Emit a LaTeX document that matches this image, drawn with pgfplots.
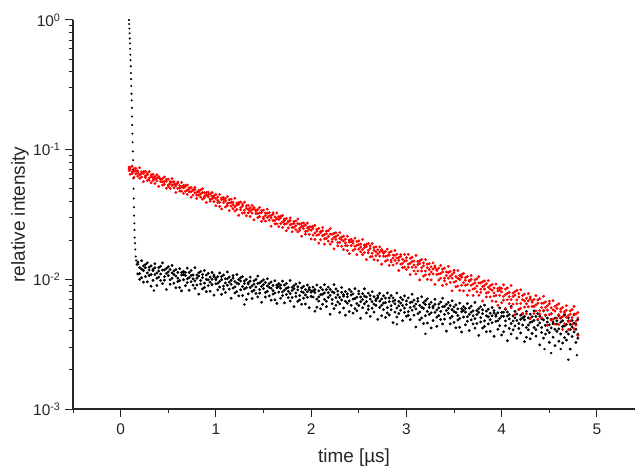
\documentclass[border=0pt]{standalone}
\usepackage{fontspec}
\setmainfont{Liberation Sans}
\usepackage{pgfplots}
\usepackage{pgfplotstable}
\pgfplotsset{compat=1.18}

% red trace: t, three samples per time step
\pgfplotstableread{
t a b c
0.09 .0735 .0690 .0712
0.10 .0704 .0646 .0725
0.12 .0676 .0746 .0655
0.14 .0681 .0612 .0714
0.16 .0685 .0649 .0717
0.18 .0626 .0662 .0686
0.20 .0603 .0725 .0642
0.22 .0674 .0616 .0655
0.24 .0677 .0566 .0658
0.26 .0628 .0681 .0609
0.28 .0659 .0580 .0640
0.30 .0603 .0677 .0581
0.32 .0618 .0640 .0556
0.34 .0608 .0644 .0579
0.36 .0620 .0591 .0548
0.38 .0641 .0573 .0602
0.40 .0609 .0521 .0619
0.42 .0568 .0595 .0588
0.44 .0533 .0598 .0564
0.46 .0616 .0541 .0568
0.48 .0504 .0588 .0571
0.50 .0535 .0592 .0522
0.52 .0546 .0566 .0503
0.54 .0598 .0530 .0563
0.56 .0508 .0540 .0566
0.58 .0468 .0544 .0525
0.60 .0563 .0503 .0550
0.62 .0479 .0528 .0504
0.64 .0559 .0479 .0516
0.66 .0529 .0460 .0508
0.68 .0532 .0478 .0517
0.70 .0487 .0452 .0534
0.72 .0473 .0497 .0508
0.74 .0430 .0511 .0473
0.76 .0491 .0486 .0446
0.78 .0494 .0465 .0513
0.80 .0446 .0469 .0421
0.82 .0486 .0472 .0447
0.84 .0489 .0431 .0456
0.86 .0467 .0416 .0500
0.88 .0438 .0465 .0425
0.90 .0446 .0467 .0391
0.92 .0449 .0433 .0470
0.94 .0415 .0454 .0400
0.96 .0436 .0416 .0467
0.98 .0397 .0427 .0442
1.00 .0370 .0420 .0451
1.02 .0391 .0431 .0406
1.04 .0365 .0451 .0393
1.06 .0412 .0424 .0349
1.08 .0429 .0390 .0414
1.10 .0403 .0362 .0418
1.12 .0384 .0434 .0370
1.14 .0388 .0339 .0411
1.16 .0392 .0367 .0415
1.18 .0351 .0377 .0394
1.20 .0336 .0422 .0364
1.22 .0387 .0346 .0374
1.24 .0391 .0312 .0378
1.26 .0357 .0395 .0344
1.28 .0380 .0324 .0367
1.30 .0341 .0394 .0326
1.32 .0353 .0369 .0309
1.34 .0347 .0372 .0326
1.36 .0356 .0336 .0305
1.38 .0372 .0324 .0344
1.40 .0350 .0288 .0358
1.42 .0322 .0342 .0336
1.44 .0299 .0346 .0321
1.46 .0358 .0305 .0325
1.48 .0280 .0340 .0328
1.50 .0302 .0342 .0293
1.52 .0311 .0325 .0281
1.54 .0348 .0300 .0323
1.56 .0286 .0309 .0327
1.58 .0257 .0311 .0298
1.60 .0326 .0284 .0317
1.62 .0268 .0303 .0285
1.64 .0325 .0268 .0294
1.66 .0304 .0255 .0289
1.68 .0307 .0269 .0297
1.70 .0277 .0251 .0311
1.72 .0267 .0284 .0292
1.74 .0237 .0295 .0268
1.76 .0281 .0277 .0249
1.78 .0284 .0264 .0298
1.80 .0251 .0267 .0233
1.82 .0280 .0270 .0252
1.84 .0282 .0241 .0259
1.86 .0269 .0232 .0292
1.88 .0248 .0267 .0239
1.90 .0255 .0270 .0215
1.92 .0257 .0246 .0272
1.94 .0234 .0262 .0223
1.96 .0250 .0236 .0272
1.98 .0222 .0244 .0254
2.00 .0254 .0205 .0239
2.02 .0257 .0219 .0247
2.04 .0228 .0203 .0261
2.06 .0219 .0235 .0243
2.08 .0190 .0247 .0221
2.10 .0234 .0230 .0202
2.12 .0237 .0217 .0251
2.14 .0205 .0221 .0187
2.16 .0235 .0225 .0207
2.18 .0237 .0197 .0214
2.20 .0223 .0187 .0246
2.22 .0204 .0223 .0195
2.24 .0211 .0226 .0172
2.26 .0214 .0203 .0229
2.28 .0192 .0219 .0181
2.30 .0207 .0193 .0229
2.32 .0180 .0202 .0212
2.34 .0170 .0198 .0215
2.36 .0182 .0204 .0191
2.38 .0167 .0215 .0182
2.40 .0194 .0201 .0158
2.42 .0204 .0182 .0195
2.44 .0190 .0167 .0198
2.46 .0180 .0208 .0171
2.48 .0183 .0155 .0196
2.50 .0185 .0171 .0198
2.52 .0163 .0177 .0187
2.54 .0155 .0203 .0170
2.56 .0184 .0161 .0176
2.58 .0186 .0142 .0179
2.60 .0167 .0189 .0160
2.62 .0181 .0149 .0173
2.64 .0159 .0189 .0150
2.66 .0167 .0176 .0142
2.68 .0163 .0178 .0152
2.70 .0169 .0157 .0140
2.72 .0178 .0151 .0162
2.74 .0166 .0131 .0170
2.76 .0151 .0162 .0159
2.78 .0138 .0164 .0150
2.80 .0171 .0141 .0152
2.82 .0128 .0161 .0154
2.84 .0141 .0164 .0136
2.86 .0146 .0154 .0129
2.88 .0167 .0140 .0153
2.90 .0133 .0146 .0156
2.92 .0117 .0147 .0140
2.94 .0155 .0131 .0150
2.96 .0123 .0143 .0133
2.98 .0156 .0124 .0138
3.00 .0139 .0119 .0147
3.02 .0131 .0156 .0124
3.04 .0133 .0109 .0145
3.06 .0137 .0124 .0148
3.08 .0116 .0129 .0138
3.10 .0110 .0153 .0124
3.12 .0137 .0116 .0130
3.14 .0139 .00989 .0132
3.16 .0123 .0142 .0116
3.18 .0134 .0106 .0127
3.20 .0116 .0142 .0108
3.22 .0123 .0131 .0100
3.24 .0119 .0132 .0109
3.26 .0125 .0114 .00990
3.28 .0134 .0110 .0120
3.30 .0123 .00914 .0127
3.32 .0109 .0119 .0117
3.34 .00985 .0122 .0110
3.36 .0128 .0102 .0111
3.38 .00898 .0120 .0114
3.40 .0102 .0122 .00973
3.42 .0107 .0114 .00917
3.44 .0126 .0102 .0113
3.46 .00948 .0106 .0115
3.48 .00815 .0109 .0102
3.50 .0117 .00953 .0112
3.52 .00877 .0105 .00966
3.54 .0117 .00887 .0102
3.56 .0107 .00823 .00997
3.58 .0109 .00900 .0104
3.60 .00943 .00816 .0111
3.62 .00901 .00984 .0103
3.64 .00755 .0105 .00911
3.66 .00983 .00963 .00819
3.68 .0100 .00901 .0107
3.70 .00841 .00921 .00751
3.72 .00989 .00940 .00851
3.74 .0101 .00802 .00890
3.76 .00938 .00754 .0105
3.78 .00841 .00937 .00793
3.80 .00880 .00956 .00681
3.82 .00898 .00842 .00973
3.84 .00786 .00925 .00731
3.86 .00869 .00795 .00978
3.88 .00732 .00841 .00895
3.90 .00680 .00823 .00912
3.92 .00743 .00858 .00787
3.94 .00673 .00919 .00752
3.96 .00813 .00848 .00631
3.98 .00864 .00752 .00821
4.00 .00799 .00659 .00849
4.02 .00740 .00908 .00691
4.04 .00762 .00596 .00840
4.06 .00782 .00695 .00859
4.08 .00649 .00735 .00792
4.10 .00604 .00897 .00699
4.12 .00784 .00644 .00738
4.14 .00803 .00535 .00757
4.16 .00694 .00822 .00648
4.18 .00776 .00587 .00731
4.20 .00651 .00830 .00598
4.22 .00697 .00750 .00547
4.24 .00681 .00768 .00611
4.26 .00716 .00647 .00543
4.28 .00777 .00614 .00683
4.30 .00708 .00497 .00733
4.32 .00617 .00684 .00667
4.34 .00544 .00701 .00618
4.36 .00750 .00571 .00636
4.38 .00492 .00694 .00653
4.40 .00574 .00710 .00542
4.42 .00607 .00654 .00504
4.44 .00740 .00577 .00655
4.46 .00531 .00608 .00670
4.48 .00442 .00625 .00579
4.50 .00678 .00535 .00648
4.52 .00484 .00604 .00544
4.54 .00685 .00493 .00582
4.56 .00619 .00452 .00568
4.58 .00633 .00504 .00597
4.60 .00534 .00448 .00648
4.62 .00507 .00563 .00591
4.64 .00411 .00606 .00515
4.66 .00564 .00551 .00454
4.68 .00578 .00510 .00626
4.70 .00471 .00525 .00410
4.72 .00572 .00539 .00479
4.74 .00586 .00448 .00507
4.76 .00540 .00416 .00618
4.78 .00476 .00540 .00444
4.80 .00503 .00554 .00369
}\redtab

% black trace after the fast drop
\pgfplotstableread{
t a b c
0.18 .0136 .0110 .0131
0.20 .0100 .0123 .0111
0.22 .0139 .0103 .0120
0.24 .0127 .00951 .0117
0.26 .0130 .0105 .0123
0.28 .0112 .00957 .0134
0.30 .0107 .0118 .0124
0.32 .00886 .0127 .0109
0.34 .0120 .0117 .00981
0.36 .0123 .0109 .0132
0.38 .0102 .0112 .00897
0.40 .0123 .0116 .0104
0.42 .0126 .00981 .0110
0.44 .0118 .00928 .0134
0.46 .0105 .0118 .00985
0.48 .0111 .0121 .00834
0.50 .0114 .0107 .0125
0.52 .00993 .0119 .00916
0.54 .0112 .0102 .0128
0.56 .00933 .0109 .0116
0.58 .00861 .0106 .0119
0.60 .00962 .0113 .0102
0.62 .00865 .0121 .00978
0.64 .0108 .0113 .00815
0.66 .0115 .00993 .0109
0.68 .0107 .00894 .0113
0.70 .0101 .0122 .00943
0.72 .0103 .00824 .0113
0.74 .0107 .00959 .0117
0.76 .00901 .0101 .0108
0.78 .00852 .0123 .00974
0.80 .0108 .00904 .0102
0.82 .0112 .00769 .0106
0.84 .00979 .0115 .00920
0.86 .0109 .00845 .0103
0.88 .00936 .0117 .00865
0.90 .0100 .0108 .00804
0.92 .00989 .0111 .00895
0.94 .0104 .00950 .00810
0.96 .0113 .00911 .0100
0.98 .0105 .00756 .0108
1.00 .00925 .0102 .00995
1.02 .00830 .0105 .00933
1.04 .0112 .00872 .00963
1.06 .00766 .0105 .00994
1.08 .00886 .0108 .00841
1.10 .00938 .0101 .00792
1.12 .0114 .00900 .0101
1.14 .00841 .00952 .0104
1.16 .00715 .00982 .00915
1.18 .0107 .00856 .0102
1.20 .00786 .00962 .00874
1.22 .0109 .00804 .00936
1.24 .00997 .00746 .00921
1.26 .0103 .00830 .00971
1.28 .00880 .00750 .0105
1.30 .00843 .00929 .00972
1.32 .00700 .0100 .00861
1.34 .00942 .00921 .00772
1.36 .00970 .00864 .0104
1.38 .00807 .00892 .00712
1.40 .00972 .00919 .00824
1.42 .00999 .00779 .00873
1.44 .00932 .00733 .0106
1.46 .00834 .00938 .00782
1.48 .00883 .00965 .00665
1.50 .00909 .00848 .00992
1.52 .00793 .00946 .00731
1.54 .00891 .00809 .0101
1.56 .00745 .00867 .00928
1.58 .00691 .00853 .00954
1.60 .00769 .00899 .00819
1.62 .00695 .00975 .00785
1.64 .00862 .00902 .00652
1.66 .00927 .00798 .00878
1.68 .00854 .00715 .00903
1.70 .00800 .00968 .00751
1.72 .00826 .00659 .00904
1.74 .00852 .00764 .00930
1.76 .00722 .00809 .00867
1.78 .00680 .00980 .00777
1.80 .00869 .00725 .00821
1.82 .00894 .00616 .00846
1.84 .00785 .00919 .00738
1.86 .00876 .00677 .00829
1.88 .00750 .00939 .00693
1.90 .00803 .00859 .00643
1.92 .00790 .00884 .00715
1.94 .00833 .00758 .00646
1.96 .00904 .00728 .00802
1.98 .00835 .00604 .00862
2.00 .00739 .00813 .00795
2.02 .00816 .00731 .00870
2.04 .00568 .00834 .00792
2.06 .00704 .00905 .00609
2.08 .00732 .00816 .00679
2.10 .00866 .00761 .00593
2.12 .00831 .00768 .00642
2.14 .00909 .00701 .00785
2.16 .00616 .00833 .00678
2.18 .00871 .00727 .00789
2.20 .00538 .00836 .00754
2.22 .00648 .00802 .00699
2.24 .00910 .00595 .00788
2.26 .00723 .00632 .00844
2.28 .00670 .00760 .00811
2.30 .00556 .00727 .00647
2.32 .00864 .00694 .00794
2.34 .00601 .00741 .00761
2.36 .00677 .00806 .00529
2.38 .00773 .00734 .00655
2.40 .00838 .00564 .00681
2.42 .00757 .00630 .00805
2.44 .00705 .00549 .00773
2.46 .00711 .00595 .00847
2.48 .00650 .00728 .00573
2.50 .00772 .00628 .00811
2.52 .00673 .00731 .00501
2.54 .00775 .00699 .00604
2.56 .00742 .00648 .00846
2.58 .00551 .00730 .00673
2.60 .00586 .00783 .00623
2.62 .00704 .00751 .00518
2.64 .00673 .00599 .00803
2.66 .00643 .00735 .00559
2.68 .00686 .00704 .00630
2.70 .00748 .00491 .00720
2.72 .00680 .00607 .00781
2.74 .00523 .00632 .00705
2.76 .00584 .00747 .00656
2.78 .00509 .00716 .00662
2.80 .00551 .00785 .00605
2.82 .00674 .00531 .00718
2.84 .00582 .00751 .00626
2.86 .00676 .00464 .00720
2.88 .00648 .00559 .00692
2.90 .00601 .00785 .00513
2.92 .00676 .00624 .00545
2.94 .00725 .00578 .00656
2.96 .00697 .00480 .00628
2.98 .00556 .00745 .00599
3.00 .00682 .00519 .00639
3.02 .00564 .00720 .00528
3.04 .00607 .00662 .00489
3.06 .00768 .00578 .00669
3.08 .00530 .00620 .00692
3.10 .00429 .00645 .00591
3.12 .00713 .00543 .00678
3.14 .00487 .00630 .00558
3.16 .00734 .00503 .00610
3.18 .00660 .00456 .00598
3.20 .00683 .00524 .00639
3.22 .00566 .00461 .00707
3.24 .00537 .00607 .00642
3.26 .00422 .00665 .00552
3.28 .00619 .00602 .00481
3.30 .00642 .00556 .00702
3.32 .00511 .00580 .00434
3.34 .00645 .00602 .00525
3.36 .00668 .00490 .00566
3.38 .00614 .00453 .00715
3.40 .00536 .00620 .00494
3.42 .00575 .00642 .00399
3.44 .00598 .00548 .00664
3.46 .00503 .00628 .00453
3.48 .00584 .00518 .00683
3.50 .00466 .00564 .00614
3.52 .00423 .00554 .00636
3.54 .00486 .00592 .00527
3.56 .00427 .00655 .00500
3.58 .00562 .00594 .00393
3.60 .00616 .00512 .00576
3.62 .00558 .00446 .00598
3.64 .00515 .00650 .00475
3.66 .00537 .00402 .00600
3.68 .00558 .00487 .00621
3.70 .00453 .00524 .00571
3.72 .00420 .00663 .00498
3.74 .00574 .00457 .00535
3.76 .00595 .00370 .00556
3.78 .00507 .00615 .00469
3.80 .00582 .00421 .00544
3.82 .00479 .00632 .00434
3.84 .00523 .00569 .00394
3.86 .00514 .00589 .00453
3.88 .00548 .00488 .00397
3.90 .00606 .00463 .00524
3.92 .00551 .00364 .00574
3.94 .00475 .00534 .00519
3.96 .00412 .00553 .00479
3.98 .00603 .00440 .00499
4.00 .00372 .00556 .00519
4.02 .00519 .00394 .00558
4.04 .00439 .00587 .00478
4.06 .00522 .00336 .00560
4.08 .00496 .00419 .00535
4.10 .00456 .00617 .00379
4.12 .00523 .00477 .00408
4.14 .00566 .00437 .00505
4.16 .00541 .00352 .00481
4.18 .00418 .00584 .00456
4.20 .00529 .00386 .00492
4.22 .00504 .00445 .00542
4.24 .00331 .00517 .00487
4.26 .00425 .00565 .00358
4.28 .00445 .00504 .00408
4.30 .00539 .00465 .00348
4.32 .00514 .00471 .00383
4.34 .00570 .00425 .00483
4.36 .00365 .00517 .00409
4.38 .00544 .00443 .00486
4.40 .00312 .00520 .00462
4.42 .00389 .00496 .00425
4.44 .00572 .00352 .00487
4.46 .00442 .00378 .00527
4.48 .00405 .00468 .00503
4.50 .00326 .00445 .00389
4.52 .00541 .00422 .00492
4.54 .00358 .00455 .00469
4.56 .00412 .00502 .00308
4.58 .00479 .00452 .00397
4.60 .00525 .00333 .00415
4.62 .00468 .00379 .00502
4.64 .00432 .00323 .00479
4.66 .00437 .00355 .00531
4.68 .00394 .00448 .00340
4.70 .00479 .00379 .00506
4.72 .00410 .00450 .00290
4.74 .00481 .00428 .00362
4.76 .00459 .00393 .00532
4.78 .00326 .00452 .00412
4.80 .00351 .00489 .00377
}\blacktab

% the fast initial drop of the black trace
\pgfplotstableread{
t y
0.088 1.00
0.090 0.93
0.092 0.86
0.094 0.79
0.096 0.72
0.098 0.66
0.100 0.60
0.102 0.54
0.104 0.49
0.106 0.44
0.108 0.39
0.110 0.35
0.112 0.31
0.114 0.27
0.116 0.24
0.118 0.21
0.120 0.18
0.122 0.155
0.124 0.133
0.126 0.114
0.128 0.097
0.130 0.083
0.132 0.070
0.134 0.060
0.136 0.050
0.138 0.042
0.140 0.036
0.142 0.031
0.144 0.027
0.146 0.024
0.148 0.021
0.151 0.019
0.154 0.017
0.158 0.015
0.163 0.014
0.168 0.013
}\droptab

\begin{document}
\begin{tikzpicture}
\begin{axis}[
  scale only axis, width=562bp, height=389bp,
  ymode=log, xmin=-0.5, xmax=5.4, ymin=1e-3, ymax=1,
  axis lines*=left,
  axis line style={line width=1.2bp, black!85},
  every tick/.style={line width=1bp, black!85},
  tick align=outside,
  major tick length=8bp, minor tick length=4.5bp,
  xtick={0,1,2,3,4,5}, xticklabels={0,1,2,3,4,5},
  minor xtick={-0.5,0.5,1.5,2.5,3.5,4.5},
  ytick={1e-3,1e-2,1e-1,1},
  yticklabels={10\textsuperscript{-3},10\textsuperscript{-2},10\textsuperscript{-1},10\textsuperscript{0}},
  minor ytick={2e-3,3e-3,4e-3,5e-3,6e-3,7e-3,8e-3,9e-3,
               2e-2,3e-2,4e-2,5e-2,6e-2,7e-2,8e-2,9e-2,
               2e-1,3e-1,4e-1,5e-1,6e-1,7e-1,8e-1,9e-1},
  tick label style={font=\fontsize{15.5}{17}\selectfont, black!85},
  x tick label style={yshift=-3bp},
  y tick label style={xshift=-1bp},
  xlabel={time [µs]}, ylabel={relative intensity},
  label style={font=\fontsize{19}{22}\selectfont, black!85},
  x label style={at={(axis description cs:0.5,0)}, yshift=-49bp, anchor=center},
  y label style={at={(axis description cs:0,0.5)}, yshift=53bp, anchor=center},
  clip=false,
]
\addplot[only marks, mark=*, mark size=0.8pt, color=black, mark options={draw=none}] table[x=t,y=y]{\droptab};
\addplot[only marks, mark=*, mark size=1.25pt, color=black, mark options={draw=none}] table[x=t,y=a]{\blacktab};
\addplot[only marks, mark=*, mark size=1.25pt, color=black, mark options={draw=none}] table[x=t,y=b]{\blacktab};
\addplot[only marks, mark=*, mark size=1.25pt, color=black, mark options={draw=none}] table[x=t,y=c]{\blacktab};
\addplot[only marks, mark=*, mark size=1pt, color=black, mark options={draw=none}] coordinates {
  (0.35,0.0082) (1.3,0.0064) (2.9,0.0045) (3.2,0.0038) (4.45,0.0029) (4.52,0.0027) (4.62,0.0029) (4.70,0.0024) (4.79,0.0026)};
\addplot[only marks, mark=*, mark size=1.25pt, color=red, mark options={draw=none}] table[x=t,y=a]{\redtab};
\addplot[only marks, mark=*, mark size=1.25pt, color=red, mark options={draw=none}] table[x=t,y=b]{\redtab};
\addplot[only marks, mark=*, mark size=1.25pt, color=red, mark options={draw=none}] table[x=t,y=c]{\redtab};
\end{axis}
\pgfresetboundingbox
\path (current axis.south west) ++(-73bp,-57bp) rectangle ++(635bp,466bp);
\end{tikzpicture}
\end{document}
